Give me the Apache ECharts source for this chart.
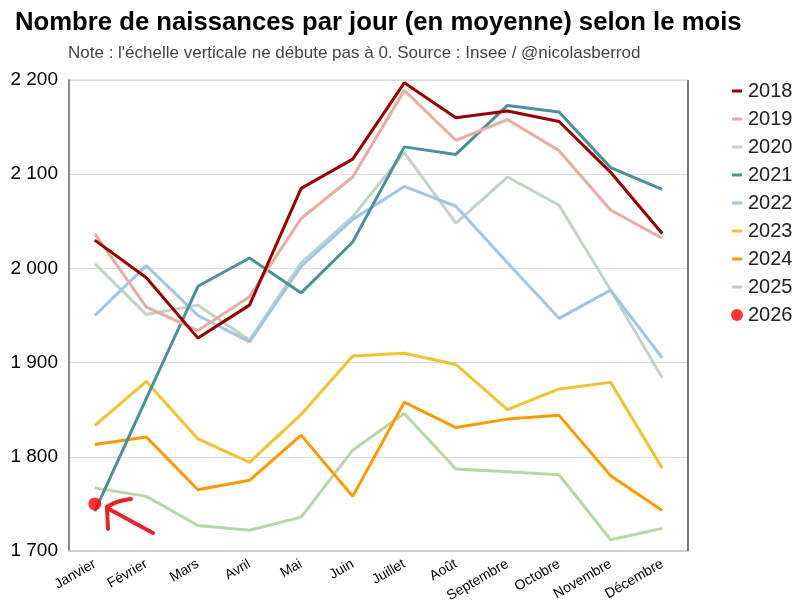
<!DOCTYPE html>
<html><head><meta charset="utf-8">
<script src="https://cdn.jsdelivr.net/npm/echarts@6/dist/echarts.min.js"></script>
<style>html,body{margin:0;padding:0;background:#fff}#c{width:805px;height:613px}</style>
</head><body><div id="c"></div>
<script>
const months = ['Janvier','Février','Mars','Avril','Mai','Juin','Juillet','Août','Septembre','Octobre','Novembre','Décembre'];
const yTicks = [1700, 1800, 1900, 2000, 2100, 2200];
const y2018 = [2030, 1990, 1926, 1961, 2085, 2116, 2197, 2160, 2167, 2156, 2102, 2037];
const y2019 = [2037, 1959, 1934, 1970, 2053, 2097, 2189, 2136, 2158, 2125, 2062, 2032];
const y2020 = [2005, 1951, 1961, 1924, 2006, 2055, 2123, 2048, 2097, 2067, 1977, 1884];
const y2021 = [1742, 1862, 1981, 2011, 1974, 2028, 2129, 2121, 2173, 2166, 2107, 2084];
const y2022 = [1950, 2003, 1950, 1922, 2002, 2052, 2087, 2066, 2006, 1947, 1977, 1905];
const y2023 = [1833, 1880, 1819, 1794, 1845, 1907, 1910, 1898, 1850, 1872, 1879, 1788];
const y2024 = [1813, 1821, 1765, 1775, 1823, 1758, 1858, 1831, 1840, 1844, 1780, 1743];
const y2025 = [1767, 1758, 1727, 1722, 1736, 1807, 1846, 1787, 1784, 1781, 1712, 1724];
const y2026 = [1750];

const lineYears = ['2018','2019','2020','2021','2022','2023','2024','2025'];
const lineData = [y2018, y2019, y2020, y2021, y2022, y2023, y2024, y2025];
const colors = ['#990000','#e8aca2','#bfd6c5','#4a9199','#9fc5e8','#f1c232','#ff9900','#b6d7a8'];
const zs = [9, 8, 3, 7, 4, 5, 6, 2];

const chart = echarts.init(document.getElementById('c'), null, {renderer:'canvas'});
const series = lineYears.map((y,i)=>({
  name: y, type: 'line', data: lineData[i], showSymbol: false, symbol: 'none',
  lineStyle: {color: colors[i], width: 3}, itemStyle: {color: colors[i]}, z: zs[i]
}));
series.push({name:'2026', type:'scatter', data: y2026, symbolSize: 13, itemStyle:{color:'#ff0000'}, z: 12});

const fontFam = 'Liberation Sans, Arial, sans-serif';
chart.setOption({
  animation: false,
  textStyle: {fontFamily: fontFam},
  title: [
    {text: 'Nombre de naissances par jour (en moyenne) selon le mois', left: 10, top: 5,
     textStyle: {fontSize: 25.7, fontWeight: 'bold', color: '#000', fontFamily: fontFam}},
    {text: "Note : l'échelle verticale ne débute pas à 0. Source : Insee / @nicolasberrod", left: 63, top: 40,
     textStyle: {fontSize: 17, fontWeight: 'normal', color: '#444', fontFamily: fontFam}}
  ],
  legend: [
    {orient:'vertical', left: 727, top: 76, itemWidth: 10, itemHeight: 3, itemGap: 8, icon: 'rect',
     data: lineYears, textStyle: {fontSize: 20, lineHeight: 20, color: '#222', padding:[0,0,0,1]}},
    {orient:'vertical', left: 726, top: 300, itemWidth: 12, itemHeight: 12, icon: 'circle',
     data: ['2026'], textStyle: {fontSize: 20, lineHeight: 20, color: '#222'}}
  ],
  grid: {left: 69, right: 117, top: 80, bottom: 62, show: true, borderColor: '#d0d0d0', borderWidth: 1},
  xAxis: {
    type: 'category', data: months, boundaryGap: true,
    axisLine: {show: true, lineStyle: {color: '#d0d0d0', width: 2}},
    axisTick: {show: false},
    axisLabel: {rotate: 30, fontSize: 14, color: '#000', margin: 12, interval: 0}
  },
  yAxis: {
    type: 'value', min: yTicks[0], max: yTicks[yTicks.length-1], interval: 100,
    axisLine: {show: true, lineStyle: {color: '#888', width: 2}},
    axisTick: {show: false},
    splitLine: {lineStyle: {color: '#dcdcdc', width: 1}},
    axisLabel: {fontSize: 19, color: '#000', margin: 11,
      formatter: v => String(v).replace(/\B(?=(\d{3})+(?!\d))/g, ' ')}
  },
  graphic: [
    {type:'rect', shape:{x:687, y:80, width:2, height:471}, style:{fill:'#777'}, z: 1},
    {type:'polyline', shape:{points:[[153,533],[107,508]]}, style:{stroke:'#e8242b', lineWidth:4, lineCap:'round'}, z: 20},
    {type:'polyline', shape:{points:[[107,508],[108,529]]}, style:{stroke:'#e8242b', lineWidth:4, lineCap:'round'}, z: 20},
    {type:'polyline', shape:{points:[[107,507],[117,502],[131,499]], smooth: 0.3}, style:{stroke:'#e8242b', lineWidth:4, lineCap:'round', fill:'none'}, z: 20}
  ],
  series: series
});
</script></body></html>
